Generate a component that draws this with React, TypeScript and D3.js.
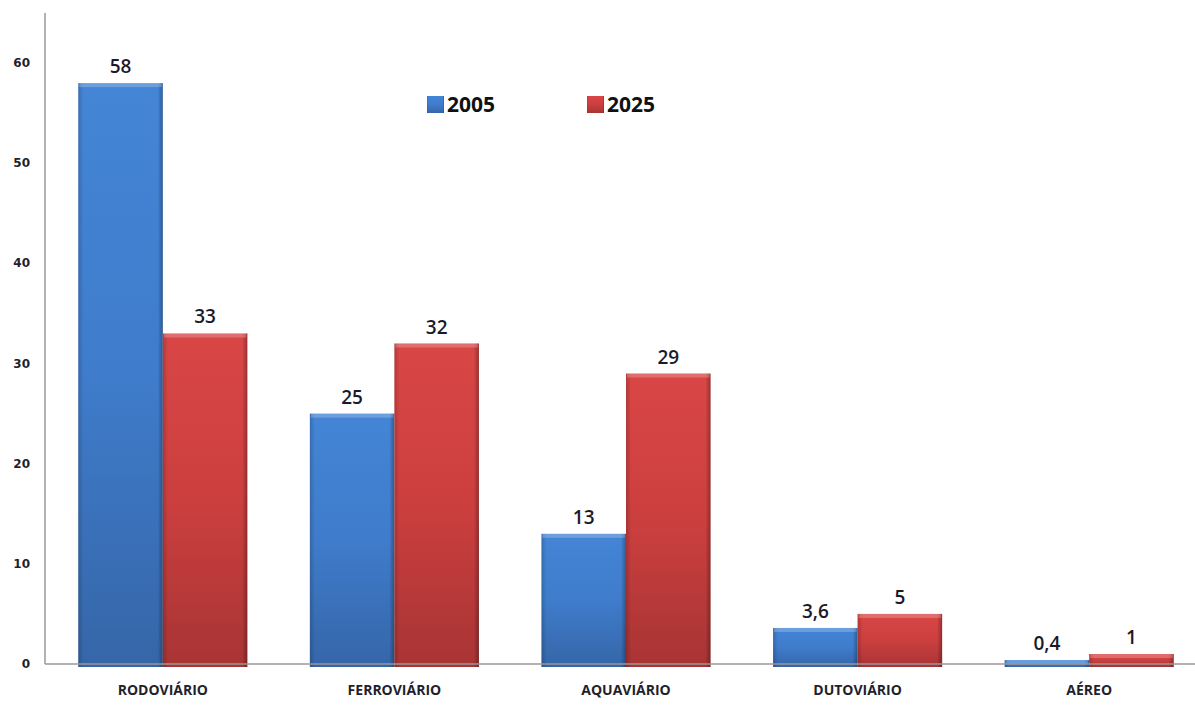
import { useEffect, useRef } from 'react';
import * as d3 from 'd3';

const categories = ['RODOVIÁRIO', 'FERROVIÁRIO', 'AQUAVIÁRIO', 'DUTOVIÁRIO', 'AÉREO'];
const series = ['2005', '2025'];
const values2005 = [58, 25, 13, 3.6, 0.4];
const values2025 = [33, 32, 29, 5, 1];
const yTicks = [0, 10, 20, 30, 40, 50, 60];

const W = 1195;
const H = 706;

export default function App() {
  const svgRef = useRef<SVGSVGElement>(null);

  useEffect(() => {
    if (!svgRef.current) return;
    const svg = d3.select(svgRef.current);
    svg.selectAll('*').remove();

    const margin = { top: 13, right: -6, bottom: 42, left: 45 };
    const innerW = W - margin.left - margin.right;
    const innerH = H - margin.top - margin.bottom;

    const defs = svg.append('defs');
    const grad = (id: string, top: string, mid: string, bot: string) => {
      const lg = defs.append('linearGradient').attr('id', id).attr('x1', 0).attr('y1', 0).attr('x2', 0).attr('y2', 1);
      lg.append('stop').attr('offset', '0%').attr('stop-color', top);
      lg.append('stop').attr('offset', '50%').attr('stop-color', mid);
      lg.append('stop').attr('offset', '100%').attr('stop-color', bot);
    };
    grad('g2005', '#4485d6', '#3f7ccb', '#3566a8');
    grad('g2025', '#d94646', '#cc3f3f', '#a83434');
    const side = defs.append('linearGradient').attr('id', 'side').attr('x1', 0).attr('y1', 0).attr('x2', 1).attr('y2', 0);
    side.append('stop').attr('offset', '0%').attr('stop-color', '#000').attr('stop-opacity', 0.18);
    side.append('stop').attr('offset', '6%').attr('stop-color', '#000').attr('stop-opacity', 0);
    side.append('stop').attr('offset', '94%').attr('stop-color', '#000').attr('stop-opacity', 0);
    side.append('stop').attr('offset', '100%').attr('stop-color', '#000').attr('stop-opacity', 0.3);

    const g = svg.append('g').attr('transform', `translate(${margin.left},${margin.top})`);

    const x0 = d3.scaleBand().domain(categories).range([2, innerW + 4]).paddingInner(0.27).paddingOuter(0.135);
    const x1 = d3.scaleBand().domain(series).range([0, x0.bandwidth()]).padding(0);
    const y = d3.scaleLinear().domain([0, 65]).range([innerH, 0]);

    // y axis
    g.append('line').attr('x1', 0).attr('x2', 0).attr('y1', 0).attr('y2', innerH).attr('stroke', '#999').attr('stroke-width', 1.5);
    g.selectAll('text.ytick')
      .data(yTicks)
      .enter()
      .append('text')
      .attr('class', 'ytick')
      .attr('x', -15)
      .attr('y', d => y(d) + 4)
      .attr('text-anchor', 'end')
      .style('font-family', 'DejaVu Sans')
      .style('font-weight', 'bold')
      .style('font-size', '12px')
      .style('fill', '#1f1f2e')
      .text(d => d);

    const data = categories.map((c, i) => ({ cat: c, vals: [values2005[i], values2025[i]] }));

    const groups = g.selectAll('.grp')
      .data(data)
      .enter()
      .append('g')
      .attr('class', 'grp')
      .attr('transform', d => `translate(${x0(d.cat)},0)`);

    series.forEach((s, si) => {
      groups.append('rect')
        .attr('x', x1(s)!)
        .attr('y', d => y(d.vals[si]))
        .attr('width', x1.bandwidth())
        .attr('height', d => innerH - y(d.vals[si]) + 3)
        .attr('fill', `url(#g${s})`);
      groups.append('rect')
        .attr('x', x1(s)!)
        .attr('y', d => y(d.vals[si]))
        .attr('width', x1.bandwidth())
        .attr('height', d => innerH - y(d.vals[si]) + 3)
        .attr('fill', 'url(#side)');
      // top bevel highlight
      groups.append('rect')
        .attr('x', x1(s)! + 1)
        .attr('y', d => y(d.vals[si]))
        .attr('width', x1.bandwidth() - 2)
        .attr('height', d => Math.min(4, innerH - y(d.vals[si]) + 2))
        .attr('fill', '#fff')
        .attr('opacity', 0.22);
      groups.append('text')
        .attr('x', x1(s)! + x1.bandwidth() / 2)
        .attr('y', d => y(d.vals[si]) - 10)
        .attr('text-anchor', 'middle')
        .style('font-family', 'Open Sans')
        .style('font-size', '19px')
        .style('font-weight', '600')
        .style('fill', '#1a1a2a')
        .text(d => String(d.vals[si]).replace('.', ','));
    });

    // x axis
    g.append('line').attr('x1', 0).attr('x2', innerW).attr('y1', innerH).attr('y2', innerH).attr('stroke', '#999').attr('stroke-width', 1.5);
    g.selectAll('text.xlab')
      .data(categories)
      .enter()
      .append('text')
      .attr('class', 'xlab')
      .attr('x', d => x0(d)! + x0.bandwidth() / 2)
      .attr('y', innerH + 31)
      .attr('text-anchor', 'middle')
      .style('font-family', 'Open Sans')
      .style('font-weight', 'bold')
      .style('font-size', '14px')
      .style('fill', '#1f1f2e')
      .text(d => d);

    // legend
    const legend = svg.append('g');
    const lx = [427, 587];
    series.forEach((s, i) => {
      legend.append('rect').attr('x', lx[i]).attr('y', 96).attr('width', 17).attr('height', 17).attr('fill', `url(#g${s})`);
      legend.append('rect').attr('x', lx[i]).attr('y', 96).attr('width', 17).attr('height', 17).attr('fill', 'url(#side)');
      legend.append('text')
        .attr('x', lx[i] + 20)
        .attr('y', 112)
        .style('font-family', 'Open Sans')
        .style('font-weight', 'bold')
        .style('font-size', '21px')
        .style('fill', '#111')
        .text(s);
    });
  }, []);

  return (
    <svg ref={svgRef} width={W} height={H} style={{ position: 'absolute', left: 0, top: 0, background: '#fff' }} />
  );
}
